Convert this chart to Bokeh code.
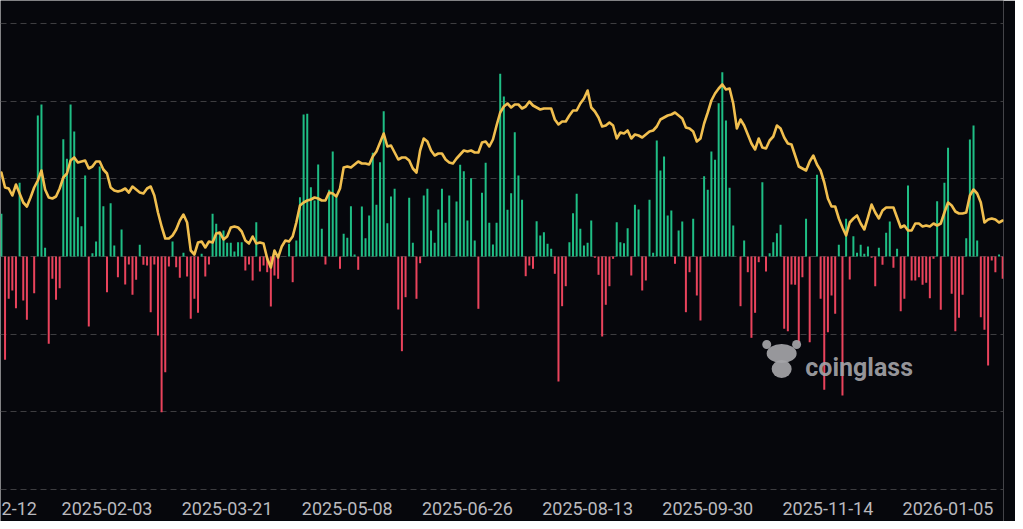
from bokeh.plotting import figure
from bokeh.models import Range1d, FixedTicker, Label
from bokeh.core.properties import value
from bokeh.embed import file_html
from bokeh.resources import INLINE

# ---- data -----------------------------------------------------------------
# daily net flow (bars), one value per category
flows = [
    427, -1033, -423, -340, -517, 737, -440, -633, 0, -367,
    1410, 1520, 87, -873, -223, -433, -317, 1173, 977, 1520,
    1250, 393, 303, 810, -700, 33, 150, 900, 503, -357,
    533, 110, -207, 270, -280, -80, -383, -233, 117, -83,
    -90, -557, -80, -790, -1557, -1157, -100, 150, -107, -213,
    37, -200, -623, -423, -563, 27, -200, -80, 427, 327,
    243, 260, 137, 137, 50, 143, 143, -140, -80, -240,
    343, -150, -90, -157, -500, -190, -223, 0, 0, 127,
    -257, 160, 593, 1420, 1427, 693, 560, 920, 277, -80,
    667, 1050, 593, -123, 227, 187, 503, 20, -133, 500,
    183, 410, 1037, 517, 943, 1453, 333, 600, 677, -530,
    -947, -407, 587, 137, -423, -67, 610, 677, 260, 137,
    470, 677, 337, 610, 0, 550, 917, 853, 360, 783,
    160, -523, 637, 937, 337, 120, 337, 1827, 1600, 467,
    633, 1243, 810, 567, -197, -90, -123, 353, 210, 243,
    127, 77, -173, -1250, -497, -297, 143, 433, 627, 277,
    110, 137, 360, -13, -183, -800, -483, -297, -23, 343,
    143, 133, 283, -190, 517, 470, -340, -240, 567, 37,
    1160, 860, 1000, 410, 460, -73, 260, 350, -557, -157,
    377, -390, -640, 803, 667, 1050, 967, 1533, 1843, 1360,
    687, 310, 0, -497, 160, -157, -813, -563, -57, 743,
    -150, 33, 143, 233, 317, -723, -747, -280, -283, -867,
    -207, 377, -857, 0, 817, -423, -1333, -757, -390, -573,
    117, -1390, 377, -230, 203, 37, 117, 27, 100, -13,
    -297, 87, -83, 237, 350, -113, 77, -547, -423, 710,
    -240, -240, -207, -283, -263, -417, -23, 553, -533, 737,
    1087, -373, -747, -613, -383, 183, 1170, 1310, 160, -607,
    -733, -1090, -40, -157, 20, -223,
]

# price line (thousands), one value per category
price = [
    102.5, 98.75, 98.5, 96.75, 99.5, 97.25, 95, 94, 96.25, 98.75,
    100.5, 103, 98.25, 96.25, 96, 96.5, 98.5, 101.25, 102.25, 105.5,
    106.25, 105, 105.25, 105.5, 103.5, 104, 105.25, 105.25, 103.25, 102.25,
    98.75, 98, 97.75, 98, 98.5, 97.5, 99, 98.25, 97.5, 97.25,
    98.5, 99, 96.75, 92.5, 89, 86, 86, 86.75, 88.25, 90.5,
    92, 90, 83, 82, 85, 85.25, 83.75, 85.25, 85, 87.25,
    87.5, 85.75, 86.5, 88.75, 89, 88.75, 87.75, 85.5, 84.75, 86.5,
    84.75, 85, 84.75, 81, 78.75, 83, 81.25, 84, 85.5, 85.25,
    86.5, 90, 94.25, 95, 95.5, 95.75, 96.25, 96, 95.5, 95.5,
    97.5, 97.25, 96.5, 98.5, 103.75, 104, 103.75, 104.5, 105.25, 104.75,
    104.75, 104.5, 106.5, 107.75, 110, 112.25, 109, 109.25, 107.5, 105.75,
    106.25, 106.25, 105.5, 103.5, 102.5, 108, 111, 110.25, 108, 106.75,
    107.25, 107.25, 105.75, 105, 104.75, 106, 107, 108, 107.75, 108,
    107.5, 107.5, 110, 110.25, 109, 110.75, 114.25, 117.5, 119, 119.75,
    118.75, 119.5, 119.5, 118.5, 119, 120.25, 119.25, 118.75, 118.25, 118.5,
    118.5, 118.5, 115.75, 114.5, 115.25, 115.25, 116.75, 118, 118, 119.75,
    121, 123, 118.75, 117.75, 116.25, 114, 114.25, 115, 114.25, 111,
    112.5, 112.25, 113, 111, 112, 111.75, 111.25, 112, 112.75, 113,
    114, 115.75, 116.25, 116.75, 117, 117.5, 116.75, 116, 113.75, 113.5,
    112.75, 110.25, 111, 114.75, 117.5, 120.5, 122.25, 123.5, 124.5, 123.25,
    123.5, 119.75, 113.5, 115.75, 114.25, 112, 109.75, 108.25, 111, 108.75,
    108.5, 110.5, 111.5, 114.25, 113.5, 111.25, 109.75, 109.5, 106.75, 104,
    103.5, 103, 105.25, 106.75, 104.5, 103, 100, 96, 94, 94,
    91, 88.75, 86.75, 90, 91, 91.75, 89.75, 88.25, 91.25, 94.5,
    92.5, 91, 93, 93.75, 93.75, 93.75, 91.25, 88.75, 89.25, 88,
    88, 89.75, 89.75, 89, 89.25, 89, 89.75, 89.25, 89.75, 92.5,
    95, 94.25, 92.75, 92.25, 92.25, 92.5, 96.75, 98.25, 97.25, 95,
    90, 90.75, 91, 90.75, 90, 90.5,
]

# x tick labels (every 33 categories); the first one is cut off at the edge
tick_index = [29, 62, 95, 128, 161, 194, 227, 260]
tick_labels = ["2025-02-03", "2025-03-21", "2025-05-08", "2025-06-26",
               "2025-08-13", "2025-09-30", "2025-11-14", "2026-01-05"]
edge_label = "2-12"

grid_step = 776          # flow units between dashed grid lines
label_level = -2520      # flow-scale level where the date labels sit

# ---- styling ---------------------------------------------------------------
BG = "#06070c"
GREEN = "#1fbe85"
RED = "#e9435c"
GOLD = "#f1bf4f"

n = len(flows)
xs = list(range(n))
bar_colors = [GREEN if v >= 0 else RED for v in flows]

W, H = 1015, 521
p = figure(width=W, height=H, output_backend="svg", toolbar_location=None,
           x_range=Range1d(-0.25, 275.23), y_range=Range1d(-2650, 2560),
           x_axis_location=None, y_axis_location=None,
           min_border_left=0, min_border_right=12, min_border_top=0,
           min_border_bottom=0,
           background_fill_color=BG, border_fill_color=BG,
           outline_line_color=None)

p.extra_y_ranges = {"price": Range1d(15.25, 145.5)}

p.xgrid.visible = False
p.ygrid.ticker = FixedTicker(ticks=[k * grid_step for k in range(-3, 4)])
p.ygrid.grid_line_color = "#3d3d40"
p.ygrid.grid_line_dash = "6 4"
p.ygrid.grid_line_width = 1

p.vbar(x=xs, top=flows, bottom=0, width=0.55, fill_color=bar_colors,
       line_color=None)

p.line(xs, price, y_range_name="price", line_color=GOLD, line_width=2.6,
       line_join="round", line_cap="round")

# date labels along the bottom
p.text(x=tick_index, y=[label_level] * len(tick_index), text=tick_labels,
       text_align="center", text_baseline="middle",
       text_font=value("Roboto"), text_font_size="18px",
       text_color="#b9b9be")
p.text(x=[0.05], y=[label_level], text=[edge_label],
       text_align="left", text_baseline="middle",
       text_font=value("Roboto"), text_font_size="18px",
       text_color="#b9b9be")

# ---- watermark -------------------------------------------------------------
WM = "#a4a4a8"
p.ellipse(x=[214.3], y=[-970], width=30, height=19, width_units="screen",
          height_units="screen", fill_color=WM, line_color=None, fill_alpha=0.92)
p.scatter(x=[210.2, 218.4], y=[-880, -880], size=9, fill_color=WM,
          line_color=None, fill_alpha=0.92)
p.ellipse(x=[214.3], y=[-1125], width=20, height=18, width_units="screen",
          height_units="screen", fill_color=WM, line_color=None, fill_alpha=0.92)
p.add_layout(Label(x=220.8, y=-1110, text="coinglass", text_font="Roboto",
                   text_font_style="bold", text_font_size="25px",
                   text_color=WM, text_alpha=0.92,
                   text_baseline="alphabetic", text_align="left"))

open("out.html", "w").write(file_html(p, INLINE))
